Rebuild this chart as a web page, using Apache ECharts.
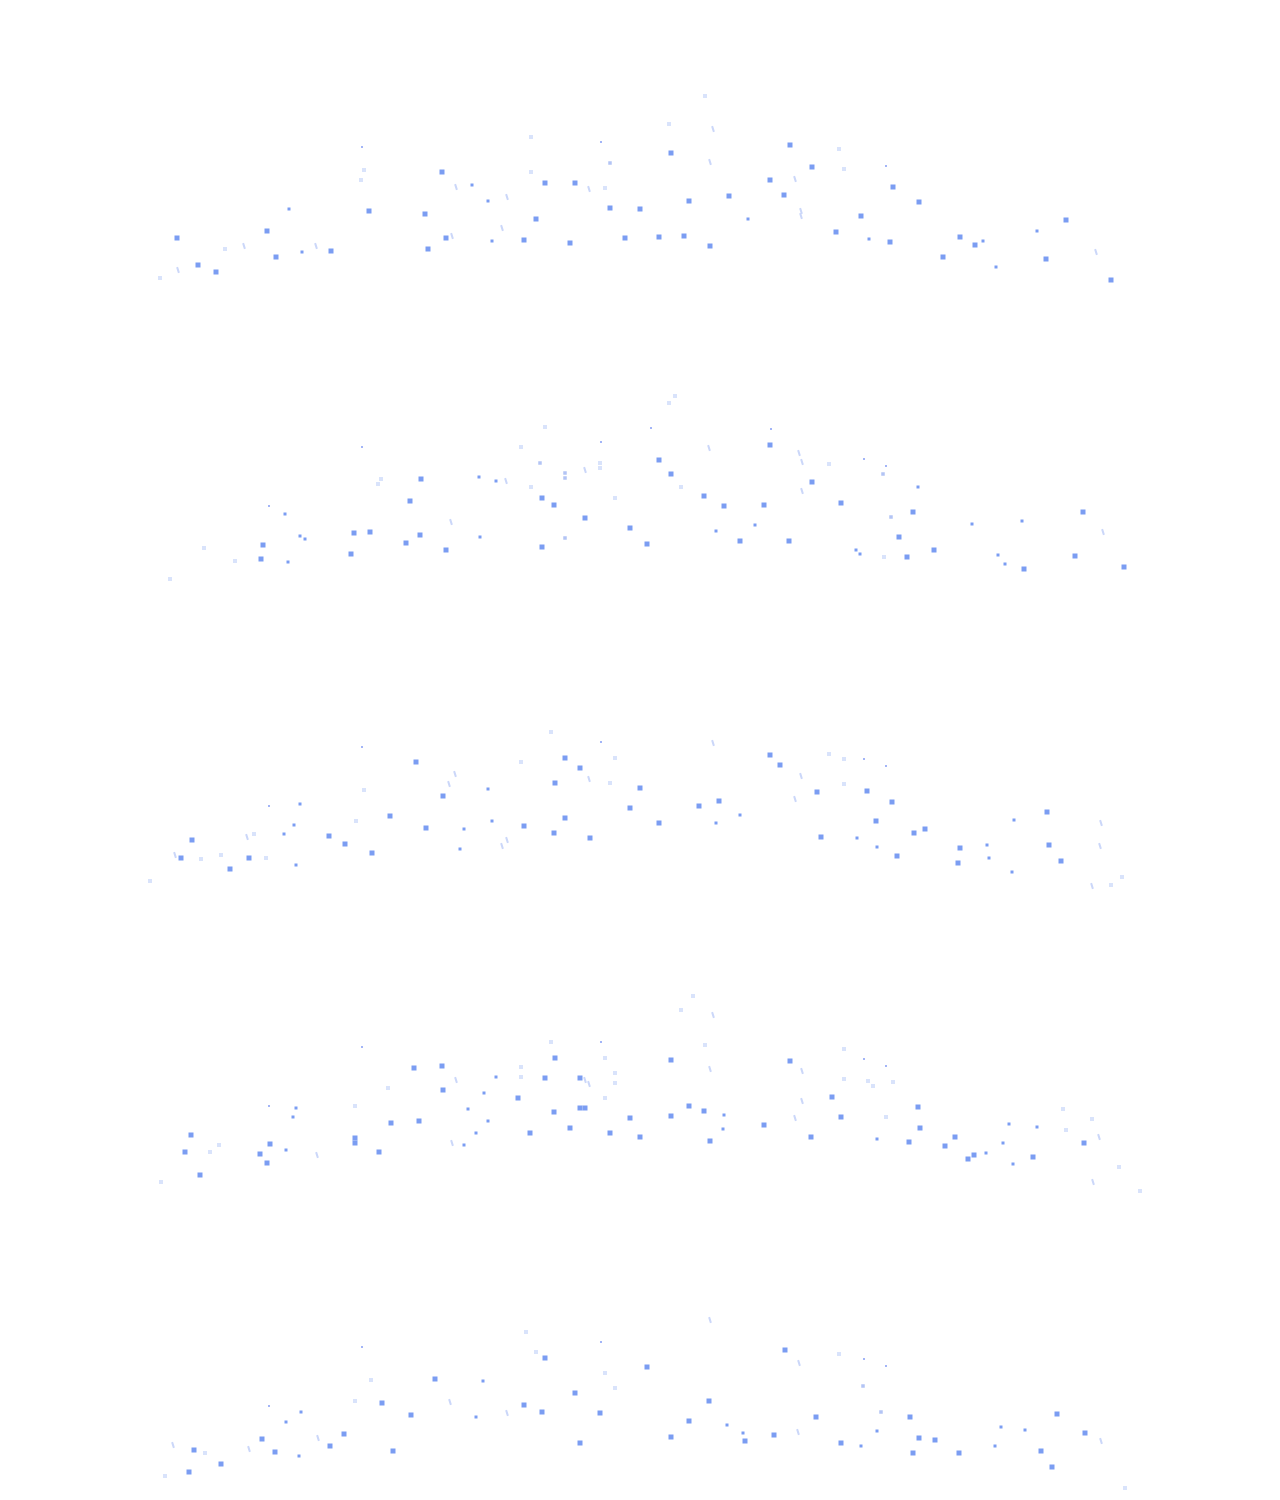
<!DOCTYPE html>
<html>
<head>
<meta charset="utf-8">
<title>scatter rows</title>
<script src="https://cdn.jsdelivr.net/npm/echarts@6/dist/echarts.min.js"></script>
<style>
	html, body { margin: 0; padding: 0; background: #fff; }
	#main { width: 1280px; height: 1500px; }
</style>
</head>
<body>
<div id="main"></div>
<script>
	'use strict';

	// [x, y] per row, x 0-100, y 0-110
	var row1Blue = [[3.7,31],[5.8,17.5],[7.6,14],[12.7,34.5],[13.6,21.5],[19.1,24.5],[22.9,44.5],[28.5,43],[28.8,25.5],[30.2,64],[30.6,31],[38.4,30],[39.6,40.5],[40.5,58.5],[43,28.5],[43.5,58.5],[47,46],[48.5,31],[50,45.5],[53.1,73.5],[51.9,31.5],[54.4,32],[57,27],[54.9,49.5],[58.9,52],[65,77.5],[67.2,66.5],[63,60],[64.4,52.5],[75.3,56.5],[77.9,49],[72.1,42],[69.6,34],[75,29],[82,31.5],[83.5,27.5],[80.3,21.5],[92.6,40],[90.6,20.5],[97.1,10]];
	var row1Small = [[14.9,45.5],[16.2,24],[33.2,57.5],[34.8,49.5],[35.2,29.5],[60.8,40.5],[72.9,30.5],[84.3,29.5],[85.6,16.5],[89.7,34.5]];
	var row1Faint = [[2,11],[8.5,25.5],[22.4,65],[22.1,60],[39.1,81.5],[39.1,64],[46.5,56],[56.5,102],[52.9,88],[69.9,75.5],[70.4,65.5]];
	var row1Mid = [[47,68.5]];
	var row1Sliver = [[3.8,15],[10.4,27],[17.6,27],[31.2,32],[31.6,56.5],[36.2,36],[36.7,51.5],[44.9,55.5],[57.3,85.5],[57,69],[65.5,60.5],[66.1,44.5],[66.1,42],[95.6,24]];
	var row1Tiny = [[22.2,76.5],[46.1,79],[74.6,67]];

	var row2Blue = [[12.1,20.5],[12.3,27.5],[21.1,23],[21.4,33.5],[23,34],[26.6,28.5],[27,49.5],[28.1,60.5],[28,32.5],[30.6,25],[40.2,51],[40.2,26.5],[41.4,47.5],[44.5,41],[49,36],[63,77.5],[51.9,70],[53.1,63],[67.2,59],[56.4,52],[58.4,47],[62.4,47.5],[70.1,48.5],[77.3,44],[50.7,28],[60,29.5],[64.9,29.5],[75.9,31.5],[76.7,21.5],[79.4,25],[88.4,15.5],[93.5,22],[94.3,44],[98.4,16.5]];
	var row2Small = [[14.5,43],[14.8,19],[16,32],[16.5,30.5],[33.9,61.5],[34,31.5],[35.6,59.5],[77.8,56.5],[57.6,34.5],[61.5,37.5],[71.6,25],[72,23],[83.2,38],[85.8,22.5],[86.5,18],[88.2,39.5]];
	var row2Faint = [[3,10.5],[6.4,26],[9.5,19.5],[24.1,60.5],[23.8,58],[38.1,76.5],[39.1,56.5],[40.5,86.5],[46,68.5],[46,66],[47.5,51],[53.5,102],[52.9,98.5],[54.1,56.5],[68.9,68],[74.4,21.5]];
	var row2Mid = [[40,68.5],[42.5,63.5],[42.5,61],[42.5,31],[74.3,63],[75.1,41.5]];
	var row2Sliver = [[31.1,39],[36.6,59.5],[44.5,65],[56.9,76],[65.9,73.5],[66.2,69],[66.2,54.5],[96.3,34]];
	var row2Tiny = [[12.9,47],[22.2,76.5],[46.1,79],[51.1,86],[63.1,85.5],[72.4,70.5],[74.6,67]];

	var row3Blue = [[4.1,21],[5.2,30],[9,15.5],[10.9,21],[18.9,32],[20.5,28],[23.2,23.5],[25,42],[27.6,69],[28.6,36],[30.3,52],[38.4,37],[41.4,33.5],[41.5,58.5],[42.5,71],[42.5,41],[44,66],[45,31],[49,46],[50,56],[63,72.5],[64,67.5],[67.7,54],[72.7,54.5],[75.2,49],[57.9,49.5],[55.9,47],[51.9,38.5],[73.6,39.5],[68.1,31.5],[75.7,22],[77.4,33.5],[78.5,35.5],[82,26],[81.8,18.5],[90.7,44],[90.9,27.5],[92.1,19.5]];
	var row3Small = [[14.4,33],[15.4,37.5],[15.6,17.5],[16,48],[32,25.5],[32.4,35.5],[34.8,55.5],[35.2,39.5],[60,42.5],[57.6,38.5],[71.7,31],[73.7,26.5],[84.7,27.5],[84.9,21],[87.2,14],[87.4,40]];
	var row3Faint = [[1,9.5],[6.1,20.5],[8.1,22.5],[11.4,33],[12.6,21],[21.6,39.5],[22.4,55],[38.1,69],[41.1,84],[47,58.5],[47.5,71],[68.9,73],[70.4,70.5],[70.4,58],[97.1,7.5],[98.2,11.5]];
	var row3Mid = [];
	var row3Sliver = [[3.5,22.5],[10.7,31.5],[30.9,58],[31.5,63],[36.2,27],[36.7,30],[44.9,60.5],[57.3,78.5],[66.1,62],[65.5,50.5],[96.1,38.5],[96,27],[95.2,7]];
	var row3Tiny = [[12.9,47],[22.2,76.5],[46.1,79],[72.4,70.5],[74.6,67]];

	var row4Blue = [[4.5,24],[5.1,32.5],[6,12.5],[12,23],[12.7,18.5],[13,28],[21.5,31],[21.5,28.5],[23.9,24],[25.1,38.5],[27.4,66],[27.9,39.5],[30.2,67],[30.3,55],[37.8,51],[39,33.5],[40.5,61],[41.4,44],[41.5,71],[43,36],[44,61],[44,46],[44.5,46],[47,33.5],[49,41],[50,31.5],[53.1,70],[65,69.5],[69.2,51.5],[54.9,47],[56.4,44.5],[53.1,42],[70.1,41.5],[77.8,46.5],[62.4,37.5],[78,36],[57,29.5],[67.1,31.5],[76.9,29],[81.5,31.5],[80.5,27],[83.4,22.5],[82.8,20.5],[89.3,21.5],[94.4,28.5]];
	var row4Small = [[14.6,25],[15.3,41.5],[15.6,46],[32.4,27.5],[32.8,45.5],[33.6,33.5],[34.4,53.5],[34.8,39.5],[35.6,61.5],[58.4,42.5],[58.3,35.5],[73.7,30.5],[84.6,23.5],[86.3,28.5],[86.9,38],[87.3,18],[89.7,36.5]];
	var row4Faint = [[2.1,9],[7,24],[7.9,27.5],[21.5,47],[24.8,56],[38.1,66.5],[38.1,61.5],[41.1,79],[46.5,71],[46.5,51],[47.5,63.5],[47.5,58.5],[55.3,102],[54.1,95],[56.5,77.5],[70.4,75.5],[70.4,60.5],[72.8,59.5],[73.3,57],[75.3,59],[74.6,41.5],[92.3,45.5],[92.6,35],[95.2,40.5],[97.9,16.5],[100,4.5]];
	var row4Mid = [];
	var row4Sliver = [[17.7,22.5],[31.2,28.5],[31.6,60],[44.5,60],[44.9,58],[57.3,92.5],[57,65.5],[66.2,64.5],[66.2,49.5],[65.5,41],[95.9,31.5],[95.3,9]];
	var row4Tiny = [[12.9,47],[22.2,76.5],[46.1,79],[72.4,70.5],[74.6,67]];

	var row5Blue = [[4.9,14],[5.4,25],[8.1,18],[12.2,30.5],[13.5,24],[19,27],[20.4,33],[24.2,48.5],[25.3,24.5],[27.1,42.5],[29.5,60.5],[38.4,47.5],[40.2,44],[40.5,71],[43.5,53.5],[44,28.5],[46,43.5],[50.7,66.5],[64.5,75],[56.9,49.5],[54.9,39.5],[53.1,31.5],[60.5,29.5],[63.4,32.5],[67.6,41.5],[70.1,28.5],[77,41.5],[77.9,31],[79.5,30],[77.3,23.5],[81.9,23.5],[90.1,24.5],[91.2,16.5],[91.7,43],[94.5,33.5]];
	var row5Small = [[14.6,39],[15.9,22],[16.1,44],[33.6,41.5],[34.3,59.5],[58.7,37.5],[60.3,33.5],[72.1,27],[73.7,34.5],[85.5,27],[86.1,36.5],[88.5,35]];
	var row5Faint = [[2.5,12],[6.5,23.5],[21.5,49.5],[23.1,60],[38.6,84],[39.6,74],[46.5,63.5],[47.5,56],[69.9,73],[98.5,6]];
	var row5Mid = [[72.3,57],[74.1,44]];
	var row5Sliver = [[3.3,27.5],[10.9,25.5],[17.8,31],[31,49],[36.7,43.5],[57,90],[65.9,68.5],[65.8,34],[96.1,29.5]];
	var row5Tiny = [[12.9,47],[22.2,76.5],[46.1,79],[72.4,70.5],[74.6,67]];

	var rows = [
		{ blue: row1Blue, small: row1Small, faint: row1Faint, mid: row1Mid, sliver: row1Sliver, tiny: row1Tiny },
		{ blue: row2Blue, small: row2Small, faint: row2Faint, mid: row2Mid, sliver: row2Sliver, tiny: row2Tiny },
		{ blue: row3Blue, small: row3Small, faint: row3Faint, mid: row3Mid, sliver: row3Sliver, tiny: row3Tiny },
		{ blue: row4Blue, small: row4Small, faint: row4Faint, mid: row4Mid, sliver: row4Sliver, tiny: row4Tiny },
		{ blue: row5Blue, small: row5Small, faint: row5Faint, mid: row5Mid, sliver: row5Sliver, tiny: row5Tiny }
	];

	var styles = {
		faint: { size: 4, color: '#d9e3fb', rotate: 0 },
		mid: { size: 3.5, color: '#b3c4f5', rotate: 0 },
		sliver: { size: [2, 6], color: '#cbd7f9', rotate: 18 },
		blue: { size: 5, color: '#7b9df2', rotate: 0 },
		small: { size: 3, color: '#7b9df2', rotate: 0 },
		tiny: { size: 1.5, color: '#5b7bf0', rotate: 0 }
	};
	var order = ['faint', 'mid', 'sliver', 'blue', 'small', 'tiny'];

	var grid = [], xAxis = [], yAxis = [], series = [];
	rows.forEach(function (row, i) {
		grid.push({ left: 140, width: 1000, top: 80 + 300 * i, height: 220 });
		xAxis.push({ type: 'value', gridIndex: i, min: 0, max: 100, show: false });
		yAxis.push({ type: 'value', gridIndex: i, min: 0, max: 110, show: false });
		order.forEach(function (k) {
			series.push({
				type: 'scatter',
				xAxisIndex: i,
				yAxisIndex: i,
				symbol: 'rect',
				symbolSize: styles[k].size,
				symbolRotate: styles[k].rotate,
				itemStyle: { color: styles[k].color, opacity: 1 },
				emphasis: { disabled: true },
				data: row[k]
			});
		});
	});

	var chart = echarts.init(document.getElementById('main'));
	chart.setOption({
		animation: false,
		grid: grid,
		xAxis: xAxis,
		yAxis: yAxis,
		series: series
	});
</script>
</body>
</html>
